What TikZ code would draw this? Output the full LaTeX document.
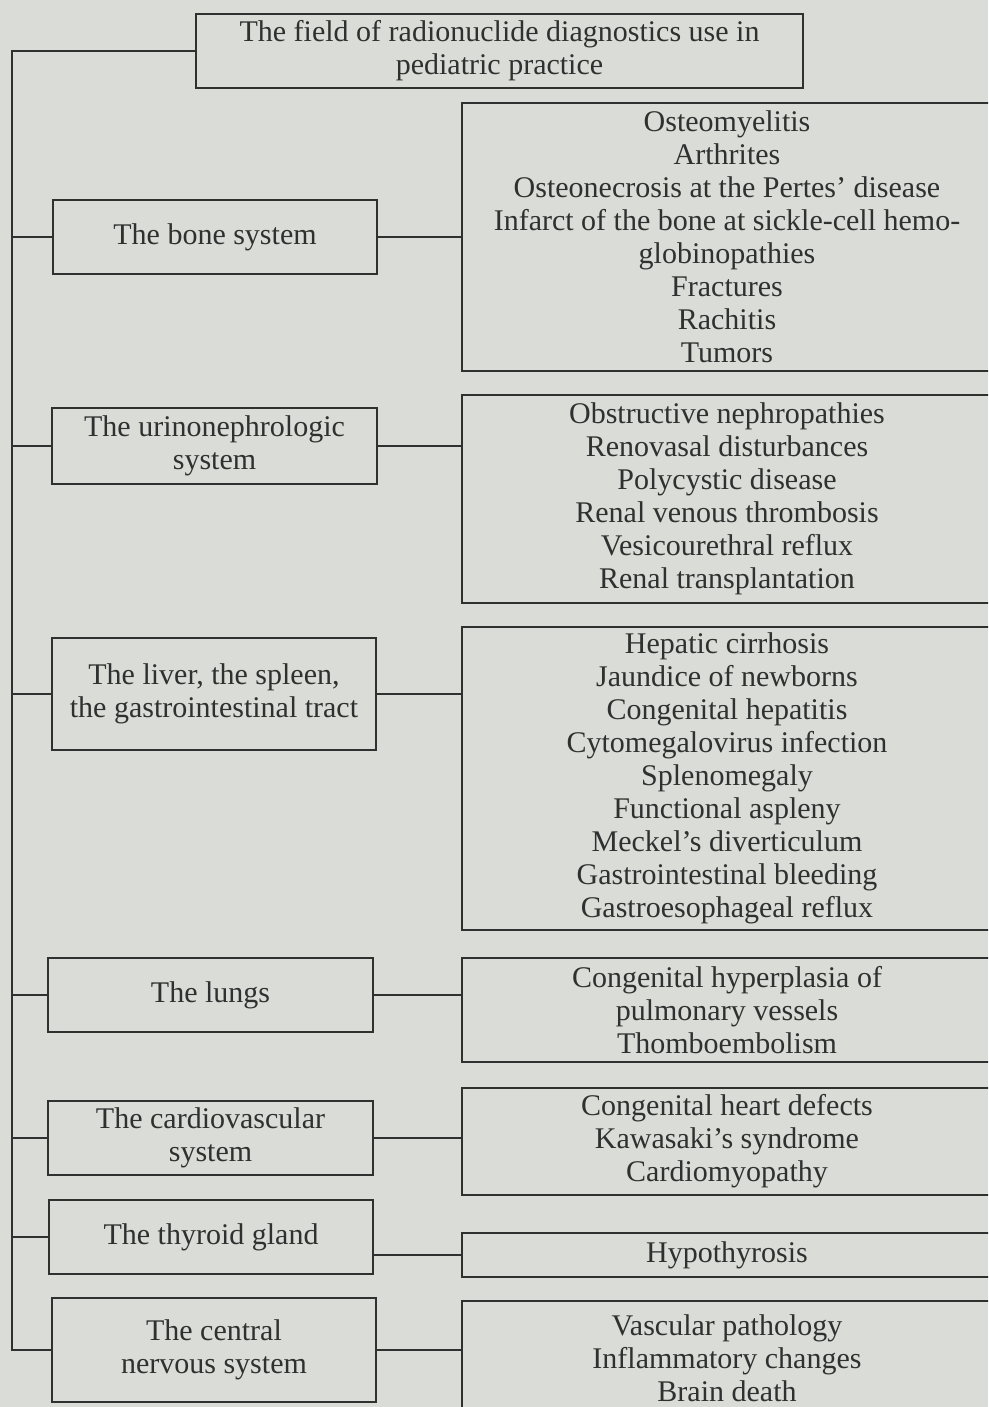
\documentclass[tikz,border=0pt]{standalone}
\usepackage{fontspec}
\setmainfont{Liberation Serif}
\definecolor{paper}{RGB}{217,220,215}
\definecolor{ink}{RGB}{48,48,48}
\begin{document}
\begin{tikzpicture}[x=1pt,y=-1pt,
  box/.style={draw=ink, line width=2pt, text=ink, align=center, inner sep=0pt,
    font=\fontsize{30}{33}\selectfont},
  link/.style={draw=ink, line width=2pt}]
\fill[paper] (0,0) rectangle (988,1407);
\useasboundingbox (0,0) rectangle (988,1407);
\clip (0,0) rectangle (988,1407);
\coordinate (tx) at (12,0);
% title
\node[box, minimum width=607pt, minimum height=74pt] (title) at (499.5,51)
  {The field of radionuclide diagnostics use in\\pediatric practice};
% left boxes
\node[box, minimum width=324pt, minimum height=74pt] (bone) at (215,237) {The bone system};
\node[box, minimum width=325pt, minimum height=76pt] (urino) at (214.5,446) {The urinonephrologic\\system};
\node[box, minimum width=324pt, minimum height=112pt] (liver) at (214,694) {The liver, the spleen,\\the gastrointestinal tract};
\node[box, minimum width=325pt, minimum height=74pt] (lungs) at (210.5,995) {The lungs};
\node[box, minimum width=325pt, minimum height=74pt] (cardio) at (210.5,1138) {The cardiovascular\\system};
\node[box, minimum width=324pt, minimum height=74pt] (thy) at (211,1237) {The thyroid gland};
\node[box, minimum width=324pt, minimum height=104pt] (cns) at (214,1350) {The central\\nervous system};
% right boxes
\node[box, minimum width=530pt, minimum height=268pt] (r1) at (727,237)
  {Osteomyelitis\\Arthrites\\Osteonecrosis at the Pertes’ disease\\Infarct of the bone at sickle-cell hemo-\\globinopathies\\Fractures\\Rachitis\\Tumors};
\node[box, minimum width=530pt, minimum height=208pt] (r2) at (727,499)
  {Obstructive nephropathies\\Renovasal disturbances\\Polycystic disease\\Renal venous thrombosis\\Vesicourethral reflux\\Renal transplantation};
\node[box, minimum width=530pt, minimum height=303pt] (r3) at (727,778.5)
  {Hepatic cirrhosis\\Jaundice of newborns\\Congenital hepatitis\\Cytomegalovirus infection\\Splenomegaly\\Functional aspleny\\Meckel’s diverticulum\\Gastrointestinal bleeding\\Gastroesophageal reflux};
\node[box, minimum width=530pt, minimum height=104pt] (r4) at (727,1010)
  {Congenital hyperplasia of\\pulmonary vessels\\Thomboembolism};
\node[box, minimum width=530pt, minimum height=107pt] (r5) at (727,1141.5)
  {Congenital heart defects\\Kawasaki’s syndrome\\Cardiomyopathy};
\node[box, minimum width=530pt, minimum height=44pt] (r6) at (727,1255) {Hypothyrosis};
\node[box, minimum width=530pt, minimum height=114pt] (r7) at (727,1358)
  {Vascular pathology\\Inflammatory changes\\Brain death};
% trunk and branches
\draw[link] (title.west) -| (cns.west -| tx) -- (cns.west);
\foreach \n in {bone,urino,liver,lungs,cardio,thy}
  \draw[link] (\n.west) -- (\n.west -| tx);
% right connectors
\draw[link] (bone.east) -- (bone.east -| r1.west);
\draw[link] (urino.east) -- (urino.east -| r2.west);
\draw[link] (liver.east) -- (liver.east -| r3.west);
\draw[link] (lungs.east) -- (lungs.east -| r4.west);
\draw[link] (cardio.east) -- (cardio.east -| r5.west);
\draw[link] (thy.east |- r6.west) -- (r6.west);
\draw[link] (cns.east) -- (cns.east -| r7.west);
\end{tikzpicture}
\end{document}
